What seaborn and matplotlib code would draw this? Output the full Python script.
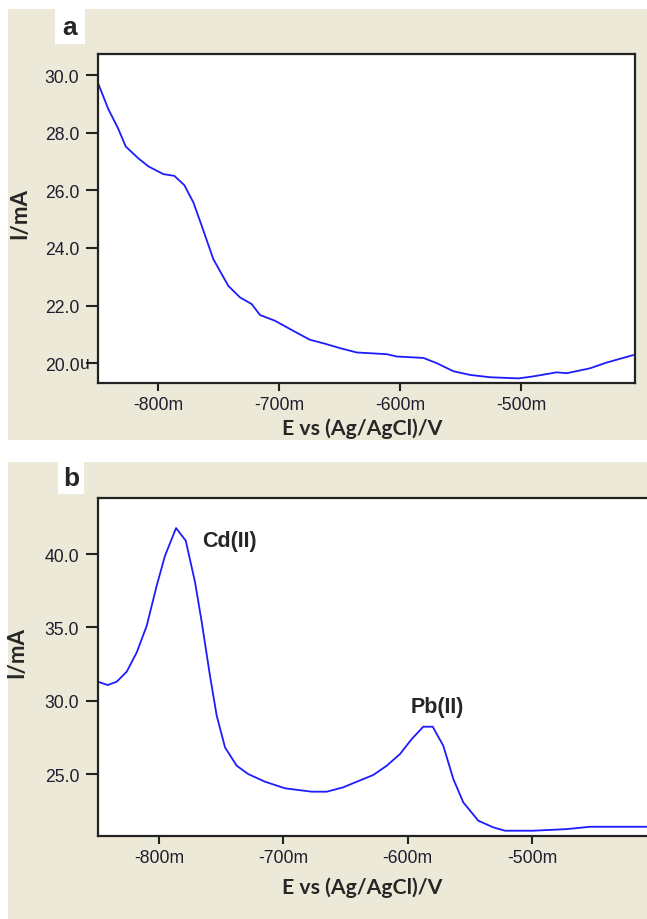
import matplotlib
matplotlib.use("Agg")
import matplotlib.pyplot as plt
from matplotlib.patches import Rectangle
import seaborn as sns
import pandas as pd

#%% data (E in mV, I in the plotted units)

E_a = [-849.3, -841.1, -832.8, -826.7, -816.3, -808.0, -795.6, -786.5, -778.3,
       -770.8, -763.9, -754.3, -741.9, -732.2, -722.6, -715.7, -703.3, -688.2,
       -674.4, -663.4, -649.6, -635.8, -611.0, -602.7, -580.7, -569.7, -556.0,
       -542.1, -525.6, -502.2, -489.8, -470.5, -462.2, -443.0, -429.2, -407.2]
I_a = [29.69, 28.82, 28.13, 27.52, 27.11, 26.83, 26.56, 26.50, 26.18,
       25.58, 24.77, 23.61, 22.68, 22.28, 22.05, 21.67, 21.47, 21.12,
       20.81, 20.69, 20.52, 20.37, 20.31, 20.23, 20.18, 20.00, 19.72,
       19.59, 19.51, 19.47, 19.54, 19.68, 19.65, 19.82, 20.02, 20.28]

E_b = [-849.3, -841.3, -834.0, -826.0, -817.9, -809.9, -801.9, -795.2, -786.3,
       -778.5, -771.0, -765.6, -759.0, -753.6, -746.9, -737.5, -728.2, -714.7,
       -698.6, -677.2, -665.1, -651.7, -640.9, -627.6, -616.8, -606.1, -596.7,
       -587.4, -579.8, -571.3, -563.2, -555.2, -543.1, -531.1, -521.7, -498.9,
       -472.0, -453.3, -407.6]
I_b = [31.30, 31.07, 31.30, 31.98, 33.30, 35.11, 37.84, 39.88, 41.77,
       40.91, 38.07, 35.34, 31.70, 28.98, 26.82, 25.57, 25.00, 24.48,
       24.03, 23.80, 23.80, 24.10, 24.48, 24.94, 25.57, 26.37, 27.39,
       28.23, 28.23, 26.93, 24.66, 23.07, 21.82, 21.37, 21.14, 21.14,
       21.25, 21.41, 21.41]

x_ticks = [-800, -700, -600, -500]
x_ticklabels = ["-800m", "-700m", "-600m", "-500m"]
ya_ticks = [20, 22, 24, 26, 28, 30]
ya_ticklabels = ["20.0", "22.0", "24.0", "26.0", "28.0", "30.0"]
yb_ticks = [25, 30, 35, 40]
yb_ticklabels = ["25.0", "30.0", "35.0", "40.0"]

#%%

sns.set_theme(style="white")
plt.rcParams["font.family"] = ["Liberation Sans", "DejaVu Sans"]

BEIGE = "#ECE9D8"
LINE = "#1c1cff"
TXT = "#1e1e2e"

fig = plt.figure(figsize=(6.47, 9.20), dpi=100)
fig.patch.set_facecolor("white")

W, H = 647.0, 920.0


def px_rect(x0, y0, x1, y1, color):
    # rectangle given in image pixels (origin top-left)
    fig.patches.append(Rectangle((x0 / W, 1 - y1 / H), (x1 - x0) / W, (y1 - y0) / H,
                                 transform=fig.transFigure, facecolor=color,
                                 edgecolor="none", zorder=-5))


px_rect(8, 10, 647, 441, BEIGE)
px_rect(8, 463, 647, 920, BEIGE)
px_rect(55, 10, 85, 45, "white")
px_rect(58, 463, 84, 495, "white")
fig.text(70 / W, 1 - 28 / H, "a", fontsize=19, fontweight="bold", ha="center", va="center")
fig.text(71 / W, 1 - 479 / H, "b", fontsize=19, fontweight="bold", ha="center", va="center")

ax_a = fig.add_axes([98 / W, 1 - 384 / H, (635 - 98) / W, (384 - 55) / H])
ax_b = fig.add_axes([98 / W, 1 - 837 / H, (647 - 98) / W, (837 - 499) / H])

df_a = pd.DataFrame({"E": E_a, "I": I_a})
df_b = pd.DataFrame({"E": E_b, "I": I_b})

sns.lineplot(data=df_a, x="E", y="I", ax=ax_a, color=LINE, lw=1.3, estimator=None)
sns.lineplot(data=df_b, x="E", y="I", ax=ax_b, color=LINE, lw=1.3, estimator=None)

ax_a.set_xlim(-849.6, -405.8)
ax_a.set_ylim(19.31, 30.73)
ax_b.set_xlim(-849.1, -407.4)
ax_b.set_ylim(20.78, 43.82)

for ax, yt, ytl in [(ax_a, ya_ticks, ya_ticklabels), (ax_b, yb_ticks, yb_ticklabels)]:
    ax.set_facecolor("white")
    ax.set_xticks(x_ticks)
    ax.set_xticklabels(x_ticklabels)
    ax.set_yticks(yt)
    ax.set_yticklabels(ytl)
    ax.tick_params(axis="y", direction="out", length=9, width=1.5, pad=4.5,
                   labelsize=12.7, colors="#222222", labelcolor=TXT, left=True)
    ax.tick_params(axis="x", direction="out", length=6, width=1.5, pad=3.5,
                   labelsize=12.7, colors="#222222", labelcolor=TXT, bottom=True)
    for side in ["left", "bottom", "top", "right"]:
        ax.spines[side].set_color("#222222")
        ax.spines[side].set_linewidth(1.6)
    ax.set_xlabel("E vs (Ag/AgCl)/V", fontsize=15.3, fontweight="bold", family="Lato")
    ax.set_ylabel("I/mA", fontsize=16, fontweight="bold", family="Lato")

ax_b.spines["right"].set_visible(False)

# the "u" unit suffix sits right behind the lowest label of panel a
ax_a.annotate("u", xy=(0, 20), xycoords=("axes fraction", "data"), xytext=(-6.3, 0),
              textcoords="offset points", ha="right", va="center", fontsize=12.7, color=TXT)

ax_a.xaxis.set_label_coords(0.492, -0.106)
ax_a.xaxis.label.set_va("top")
ax_a.yaxis.set_label_coords(-0.127, 0.517)
ax_b.xaxis.set_label_coords(0.481, -0.121)
ax_b.xaxis.label.set_va("top")
ax_b.yaxis.set_label_coords(-0.129, 0.545)

ax_b.text(-765.4, 40.95, "Cd(II)", fontsize=15.5, fontweight="bold", ha="left", va="center")
ax_b.text(-576.0, 29.64, "Pb(II)", fontsize=15.5, fontweight="bold", ha="center", va="center")

fig.savefig("out.png", dpi=100, facecolor=fig.get_facecolor())
